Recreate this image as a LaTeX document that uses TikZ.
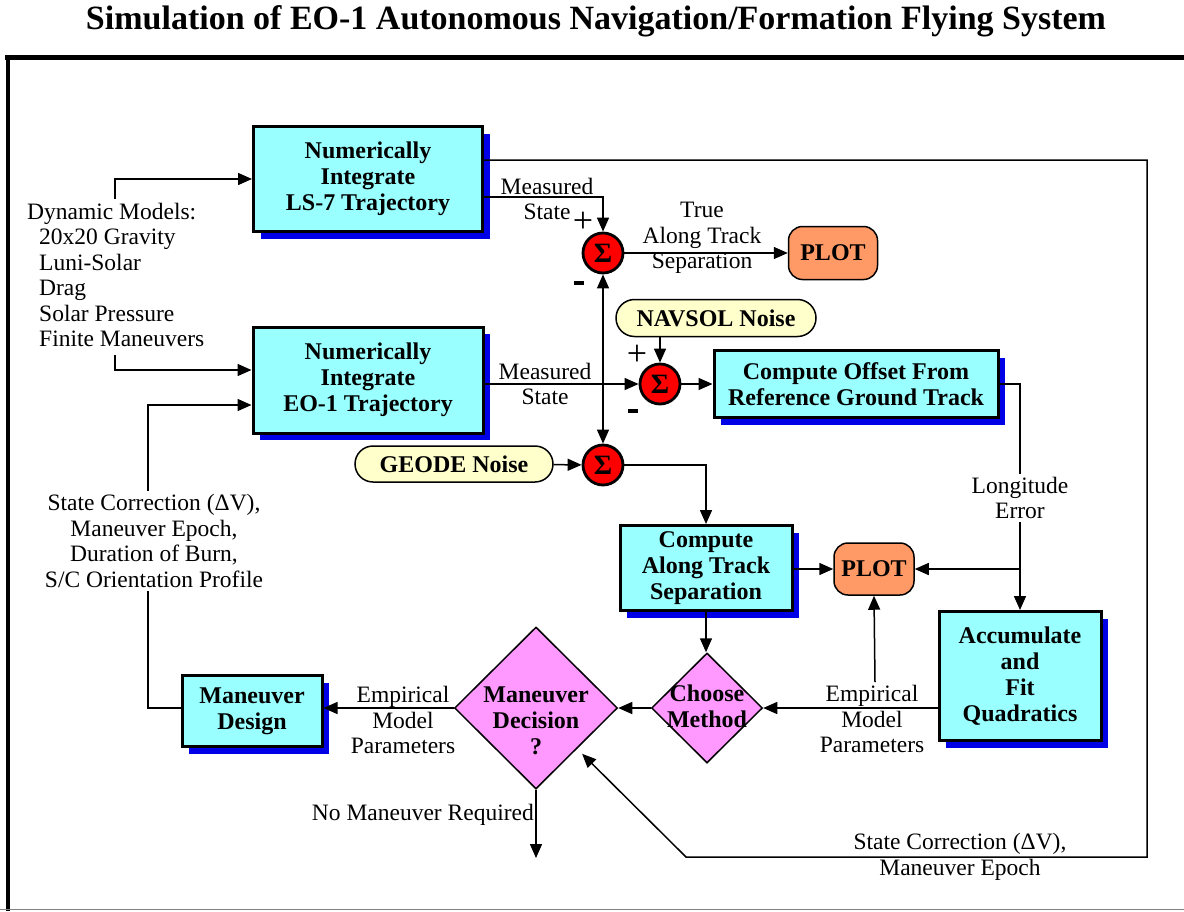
\documentclass[tikz,border=0pt]{standalone}
\usepackage{fontspec}
\setmainfont{Liberation Serif}
\usetikzlibrary{arrows.meta,shadows,shapes.geometric,shapes.misc,calc}
\definecolor{boxcyan}{HTML}{99FFFF}
\definecolor{shblue}{HTML}{0000E6}
\definecolor{sigred}{HTML}{FF0000}
\definecolor{plotor}{HTML}{FF9966}
\definecolor{noisey}{HTML}{FFFFCC}
\definecolor{decpink}{HTML}{FF99FF}
\tikzset{
 arr/.style={line width=1.5pt, -{Triangle[length=14pt,width=12pt]}},
 ln/.style={line width=1.5pt},
 blk/.style={draw, line width=3pt, fill=boxcyan, font=\bfseries\fontsize{24}{26}\selectfont, align=center, inner sep=0pt, drop shadow={shadow xshift=7pt,shadow yshift=-7pt,fill=shblue,opacity=1}},
 sig/.style={circle, draw, line width=2.8pt, fill=sigred, minimum size=40pt, inner sep=0pt, font=\bfseries\fontsize{28}{28}\selectfont},
 plotbox/.style={draw, line width=1.5pt, fill=plotor, rounded corners=14pt, font=\bfseries\fontsize{24}{26}\selectfont, inner sep=0pt},
 noise/.style={rounded rectangle, draw, line width=1.5pt, fill=noisey, font=\bfseries\fontsize{24}{26}\selectfont, inner sep=0pt},
 dec/.style={diamond, draw, line width=1.5pt, fill=decpink, inner sep=0pt},
 lbl/.style={font=\fontsize{23.5}{25.5}\selectfont, align=center, inner sep=1pt},
 wlbl/.style={lbl, fill=white, inner sep=3pt},
 dtxt/.style={font=\bfseries\fontsize{24}{26}\selectfont, align=center, inner sep=0pt},
 sgn/.style={font=\fontsize{36}{36}\selectfont, inner sep=0pt},
}
\begin{document}
\begin{tikzpicture}[x=1pt,y=-1pt]
\useasboundingbox (0,0) rectangle (1184,911);
% frame
\draw[line width=5pt] (5,57.5) -- (1184,57.5);
\draw[line width=4pt] (7.5,55.5) -- (7.5,911);
\draw[line width=1.5pt, gray] (0,909.5) -- (1184,909.5);
% title
\node[font=\bfseries\fontsize{34}{36}\selectfont, inner sep=0pt] (title) at (596,21) {Simulation of EO-1 Autonomous Navigation/Formation Flying System};

% blocks
\node[blk, minimum width=229pt, minimum height=105pt] (ls7) at (368,179) {Numerically\\Integrate\\LS-7 Trajectory};
\node[blk, minimum width=230pt, minimum height=106pt] (eo1) at (368,380) {Numerically\\Integrate\\EO-1 Trajectory};
\node[blk, minimum width=284pt, minimum height=67pt] (offset) at (856,384) {Compute Offset From\\Reference Ground Track};
\node[blk, minimum width=172pt, minimum height=85pt] (along) at (706,568) {Compute\\Along Track\\Separation};
\node[blk, minimum width=162pt, minimum height=129pt] (accum) at (1020,676) {Accumulate\\and\\Fit\\Quadratics};
\node[blk, minimum width=140pt, minimum height=71pt] (mdesign) at (252,711) {Maneuver\\Design};

\node[plotbox, minimum width=89pt, minimum height=53pt] (plot1) at (833,253) {PLOT};
\node[plotbox, minimum width=80pt, minimum height=52pt] (plot2) at (874,569) {PLOT};
\node[noise, minimum width=200pt, minimum height=37pt] (navsol) at (716,318) {NAVSOL Noise};
\node[noise, minimum width=198pt, minimum height=36pt] (geode) at (454,464) {GEODE Noise};

\node[sig] (s1) at (603,253) {Σ};
\node[sig] (s2) at (660,384) {Σ};
\node[sig] (s3) at (603,465) {Σ};

\node[dec, minimum width=163pt, minimum height=162pt] (mdd) at (536,708) {};
\node[dtxt] (mddtxt) at (536,721) {Maneuver\\Decision\\?};
\node[dec, minimum width=111pt, minimum height=110pt] (choose) at (707,708) {};
\node[dtxt] (choosetxt) at (707,706) {Choose\\Method};

% labels
\node[lbl, align=left, anchor=west] (dyn) at (26,275) {Dynamic Models:\\\hspace*{12pt}20x20 Gravity\\\hspace*{12pt}Luni-Solar\\\hspace*{12pt}Drag\\\hspace*{12pt}Solar Pressure\\\hspace*{12pt}Finite Maneuvers};
\node[lbl] (ms1) at (547,199) {Measured\\State};
\node[lbl] (ms2) at (545,384) {Measured\\State};
\node[lbl] (tats) at (702,238) {True\\Along Track\\Separation};
\node[sgn] (p1) at (583,222) {+};
\node[inner sep=0pt] (m1) at (579,283) {\rule{10pt}{3.5pt}};
\node[sgn] (p2) at (637,355) {+};
\node[inner sep=0pt] (m2) at (633,411) {\rule{10pt}{3.5pt}};
\node[lbl] (emp1) at (872,719) {Empirical\\Model\\Parameters};
\node[lbl] (emp2) at (403,720) {Empirical\\Model\\Parameters};
\node[lbl] (sc2) at (960,857) {State Correction (ΔV),\\Maneuver Epoch};
\node[lbl, anchor=east] (nomr) at (535,815) {No Maneuver Required};

% coordinates
\coordinate (dm1) at (115,199);
\coordinate (dm2) at (115,355);
\coordinate (fbx) at (148,405);
\coordinate (c1) at (1147,160);
\coordinate (c2) at (1147,857);
\coordinate (c3) at (686,857);
\coordinate (j1) at (603,384);
\coordinate (j2) at (1020,569);
\coordinate (j3) at (875,682);
\coordinate (nmend) at (536,858);

% connectors
\draw[arr] (dm1) |- (ls7.west);
\draw[arr] (dm2) |- ($(eo1.west)+(0,-10)$);
\draw[arr] (mdesign.west |- 0,708) -| (fbx) -- ($(eo1.west)+(0,25)$);
\node[wlbl] (sc1) at (154,541) {State Correction (ΔV),\\Maneuver Epoch,\\Duration of Burn,\\S/C Orientation Profile};
\draw[arr] ($(ls7.east)+(0,18)$) -| (s1.north);
\draw[arr, shorten >=7pt] ($(ls7.east)+(0,-19)$) -- (c1) -- (c2) -- (c3) -- (mdd);
\draw[arr] (s1) -- (plot1);
\draw[arr] (j1) -- (s1.south);
\draw[arr] (j1) -- (s3.north);
\draw[arr] (eo1.east |- s2) -- (s2.west);
\draw[arr] (navsol.south -| s2) -- (s2.north);
\draw[arr] (s2) -- (offset.west |- s2);
\draw[arr] (offset.east) -| (accum.north);
\node[wlbl] (lerr) at (1020,498) {Longitude\\Error};
\draw[arr] (j2) -- (plot2.east);
\draw[arr] (geode) -- (s3);
\draw[arr] (s3.east) -| (along.north);
\draw[arr] (along.east |- plot2) -- (plot2.west);
\draw[arr] (along.south) -- (along.south |- choose.north);
\draw[arr] (accum.west |- choose) -- (choose.east);
\draw[arr] (j3) -- (plot2.south);
\draw[arr] (choose.west) -- (mdd.east);
\draw[arr] (mdd.west) -- (mdesign.east |- mdd);
\draw[arr] (mdd.south) -- (nmend);
\end{tikzpicture}
\end{document}
